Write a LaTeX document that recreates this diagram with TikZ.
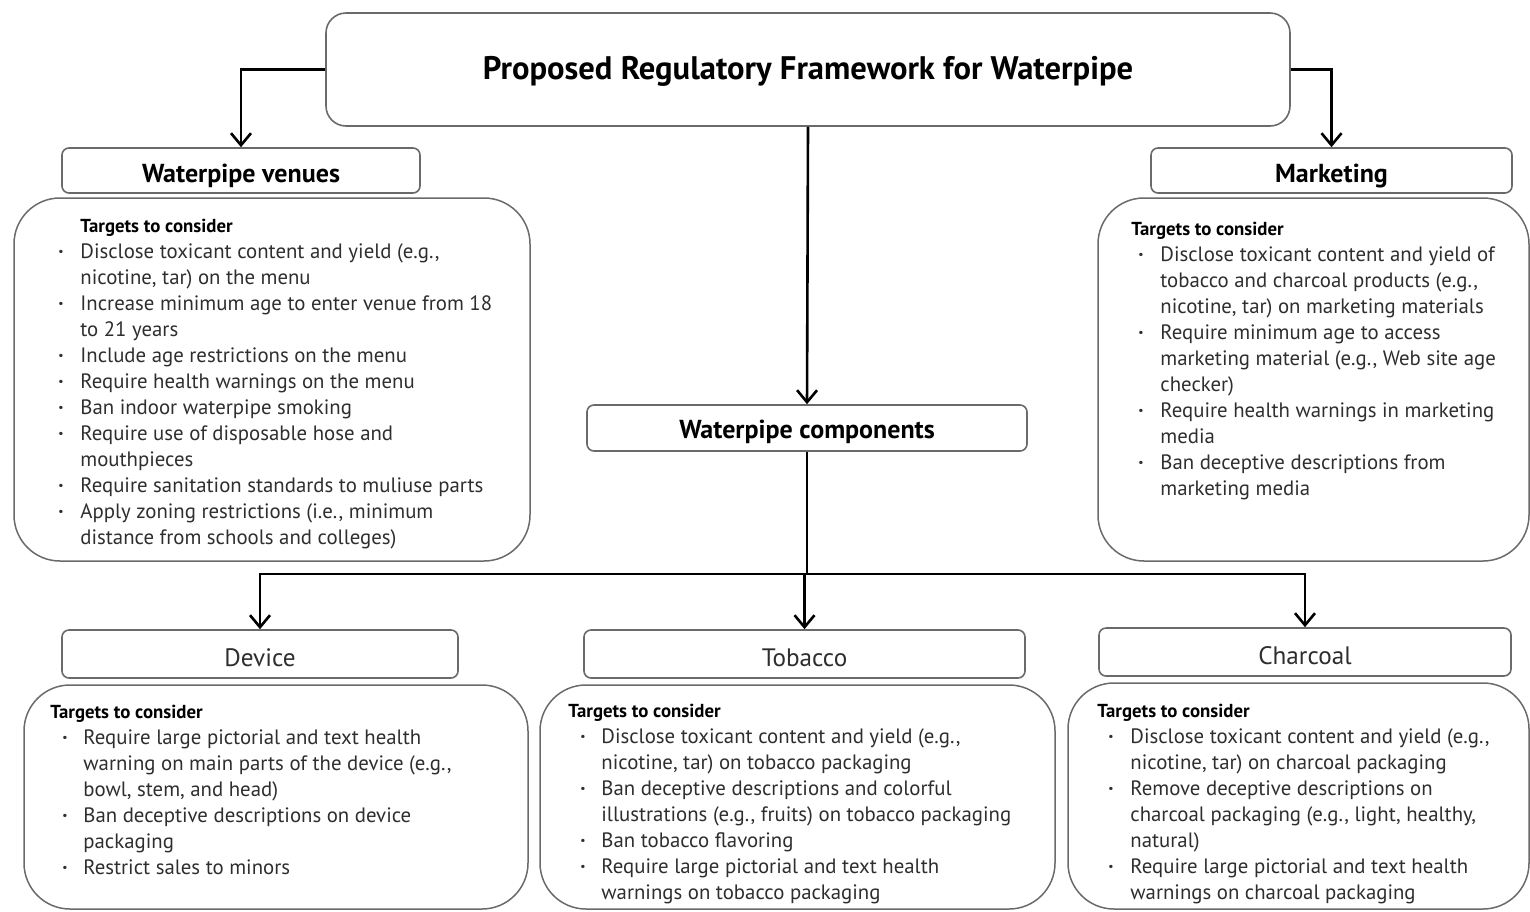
\documentclass[tikz,border=0pt]{standalone}
\usepackage{fontspec}
\setmainfont{PT Sans}
\usetikzlibrary{arrows.meta}
\definecolor{bordergray}{HTML}{6A6A6A}
\definecolor{txt}{HTML}{2E2E2E}
\newcommand\Bt{\hspace*{\bo}\makebox[\dimexpr\tx-\bo\relax][l]{\textbf{·}}}
\newcommand\Ct{\hspace*{\tx}}
\newcommand\Tt{\hspace*{\tg}{\color{black}\fontsize{9.4}{13}\selectfont\textbf{Targets to consider}}}
\begin{document}
\begin{tikzpicture}[x=0.5pt,y=-0.5pt,
  hdr/.style={draw=bordergray, line width=0.8pt, rounded corners=3.5pt, fill=white, inner sep=0pt, text=black, text height=12pt, text depth=0pt},
  tbox/.style={draw=bordergray, line width=0.75pt, rounded corners=23pt, inner sep=0pt},
  titlebox/.style={draw=bordergray, line width=0.8pt, rounded corners=10pt, inner sep=0pt, text=black, text height=9.5pt, text depth=0pt},
  arr/.style={-{Straight Barb[length=6pt,width=10pt,line width=1.3pt]}, line width=1.3pt, black},
  body/.style={anchor=north west, inner sep=0pt, align=left, text=txt, font=\fontsize{10.4}{13}\selectfont},
  hb/.style={font=\fontsize{13}{15}\selectfont\bfseries},
  hr/.style={font=\fontsize{12.6}{15}\selectfont, text=txt}
]
\useasboundingbox (0,0) rectangle (1530,911);

% title
\node[titlebox, minimum width=482pt, minimum height=56.5pt, font=\fontsize{16.3}{19}\selectfont\bfseries] (title) at (808,69.5) {Proposed Regulatory Framework for Waterpipe};

% headers
\node[hdr, hb, minimum width=179pt, minimum height=22.5pt] (venH) at (241,170.5) {Waterpipe venues};
\node[hdr, hb, minimum width=180.5pt, minimum height=22.5pt] (mktH) at (1331.5,170.5) {Marketing};
\node[hdr, hb, minimum width=220pt, minimum height=23pt, text height=10.5pt] (compH) at (807,428) {Waterpipe components};
\node[hdr, hr, minimum width=198pt, minimum height=24pt] (devH) at (260,654) {Device};
\node[hdr, hr, minimum width=220.5pt, minimum height=24pt] (tobH) at (804.5,654) {Tobacco};
\node[hdr, hr, minimum width=206pt, minimum height=24pt] (chaH) at (1305,652) {Charcoal};

% content boxes
\node[tbox, minimum width=258pt, minimum height=181.5pt] (venB) at (272,379.5) {};
\node[tbox, minimum width=215.5pt, minimum height=181.5pt] (mktB) at (1313.5,379.5) {};
\node[tbox, minimum width=252pt, minimum height=112pt] (devB) at (276,797) {};
\node[tbox, minimum width=257.5pt, minimum height=112pt] (tobB) at (797.5,797) {};
\node[tbox, minimum width=230.5pt, minimum height=113pt] (chaB) at (1298.5,796) {};

% texts
\def\tg{11pt}\def\bo{0pt}\def\tx{11pt}
\node[body] (venT) at (58,218.5) {\Tt\\
\Bt Disclose toxicant content and yield (e.g.,\\
\Ct nicotine, tar) on the menu\\
\Bt Increase minimum age to enter venue from 18\\
\Ct to 21 years\\
\Bt Include age restrictions on the menu\\
\Bt Require health warnings on the menu\\
\Bt Ban indoor waterpipe smoking\\
\Bt Require use of disposable hose and\\
\Ct mouthpieces\\
\Bt Require sanitation standards to muliuse parts\\
\Bt Apply zoning restrictions (i.e., minimum\\
\Ct distance from schools and colleges)};

\def\tg{0pt}\def\bo{3.5pt}\def\tx{14.5pt}
\node[body] (mktT) at (1131,222) {\Tt\\
\Bt Disclose toxicant content and yield of\\
\Ct tobacco and charcoal products (e.g.,\\
\Ct nicotine, tar) on marketing materials\\
\Bt Require minimum age to access\\
\Ct marketing material (e.g., Web site age\\
\Ct checker)\\
\Bt Require health warnings in marketing\\
\Ct media\\
\Bt Ban deceptive descriptions from\\
\Ct marketing media};

\def\tg{0pt}\def\bo{6pt}\def\tx{16.5pt}
\node[body] (devT) at (50,704.5) {\Tt\\
\Bt Require large pictorial and text health\\
\Ct warning on main parts of the device (e.g.,\\
\Ct bowl, stem, and head)\\
\Bt Ban deceptive descriptions on device\\
\Ct packaging\\
\Bt Restrict sales to minors};

\node[body] (tobT) at (568,704) {\Tt\\
\Bt Disclose toxicant content and yield (e.g.,\\
\Ct nicotine, tar) on tobacco packaging\\
\Bt Ban deceptive descriptions and colorful\\
\Ct illustrations (e.g., fruits) on tobacco packaging\\
\Bt Ban tobacco flavoring\\
\Bt Require large pictorial and text health\\
\Ct warnings on tobacco packaging};

\def\tg{0pt}\def\bo{5.5pt}\def\tx{16.5pt}
\node[body] (chaT) at (1097,704) {\Tt\\
\Bt Disclose toxicant content and yield (e.g.,\\
\Ct nicotine, tar) on charcoal packaging\\
\Bt Remove deceptive descriptions on\\
\Ct charcoal packaging (e.g., light, healthy,\\
\Ct natural)\\
\Bt Require large pictorial and text health\\
\Ct warnings on charcoal packaging};

% connectors
\draw[arr] (title.west) -| (venH.north);
\draw[arr] (title.east) -| (mktH.north);
\draw[arr] (title.south) -- (compH.north);
\coordinate (split) at (compH.south |- 0,574);
\draw[line width=1.3pt] (compH.south) -- (split);
\draw[line width=1.3pt] (devH.north |- split) -- (chaH.north |- split);
\draw[arr] (split) -| (devH.north);
\draw[arr] (split) -| (tobH.north);
\draw[arr] (split) -| (chaH.north);
\end{tikzpicture}
\end{document}
